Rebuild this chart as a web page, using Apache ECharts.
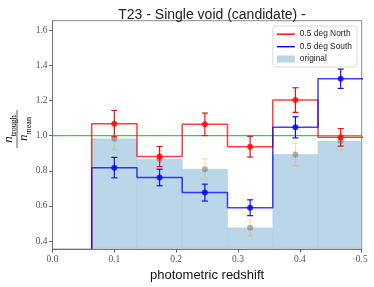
<!DOCTYPE html>
<html>
<head>
<meta charset="utf-8">
<script src="https://cdn.jsdelivr.net/npm/echarts@6/dist/echarts.min.js"></script>
<style>html,body{margin:0;padding:0;background:#fff}#c{width:374px;height:287px}</style>
</head>
<body>
<div id="c"></div>
<script>
// ---- data ----
const binEdges = [0.0634, 0.1366, 0.2098, 0.2830, 0.3562, 0.4294, 0.5026];
const binCenters = [0.1000, 0.1732, 0.2464, 0.3196, 0.3928, 0.4660];
const northValues = [1.068, 0.881, 1.064, 0.937, 1.202, 0.990];
const northErrors = [0.075, 0.057, 0.064, 0.059, 0.070, 0.050];
const southValues = [0.818, 0.762, 0.676, 0.590, 1.047, 1.323];
const southErrors = [0.058, 0.047, 0.048, 0.045, 0.060, 0.055];
const originalValues = [0.982, 0.866, 0.809, 0.476, 0.892, 0.969];
const originalErrors = [0.063, 0.050, 0.059, 0.045, 0.064, 0.050];
const referenceLevel = 1.0;
const yTicks = [0.4, 0.6, 0.8, 1.0, 1.2, 1.4, 1.6];
const xTicks = [0.0, 0.1, 0.2, 0.3, 0.4, 0.5];

const serif = "'Liberation Serif', 'DejaVu Serif', serif";
const sans = "'Liberation Sans', 'DejaVu Sans', sans-serif";

function stepData(vals) {
  const d = [[binEdges[0], 0]];
  for (let i = 0; i < vals.length; i++) {
    d.push([binEdges[i], vals[i]]);
    d.push([binEdges[i + 1], vals[i]]);
  }
  return d;
}
function errData(vals, errs) {
  return binCenters.map((x, i) => [x, vals[i], errs[i]]);
}
function pointData(vals) {
  return binCenters.map((x, i) => [x, vals[i]]);
}
function errSeries(vals, errs, color, z) {
  return {
    type: 'custom', z: z, silent: true,
    data: errData(vals, errs),
    renderItem: function (params, api) {
      const x = api.value(0), y = api.value(1), e = api.value(2);
      const t = api.coord([x, y + e]);
      const b = api.coord([x, y - e]);
      const cw = 3;
      const st = { stroke: color, lineWidth: 1.2 };
      return {
        type: 'group',
        children: [
          { type: 'line', shape: { x1: t[0], y1: t[1], x2: b[0], y2: b[1] }, style: st },
          { type: 'line', shape: { x1: t[0] - cw, y1: t[1], x2: t[0] + cw, y2: t[1] }, style: st },
          { type: 'line', shape: { x1: b[0] - cw, y1: b[1], x2: b[0] + cw, y2: b[1] }, style: st }
        ]
      };
    }
  };
}
const lineIcon = 'path://M0,0 M18,7 M0,3 L18,3 L18,4.4 L0,4.4 Z';

const chart = echarts.init(document.getElementById('c'), null, { renderer: 'canvas' });
const option = {
  animation: false,
  title: {
    text: 'T23 - Single void (candidate) -',
    left: 207, top: 3, textAlign: 'center',
    textStyle: { fontFamily: sans, fontSize: 14, fontWeight: 'normal', color: '#222' }
  },
  grid: { left: 52.5, right: 12.3, top: 20.7, bottom: 36.7, show: true, borderColor: '#888', borderWidth: 1, containLabel: false },
  legend: {
    orient: 'vertical', right: 17, top: 26,
    padding: [4, 5, 4, 4], itemGap: 4.5, itemWidth: 18, itemHeight: 7,
    backgroundColor: '#fff', borderColor: '#d8d8d8', borderWidth: 1, borderRadius: 3,
    textStyle: { fontFamily: sans, fontSize: 8.4, color: '#222' },
    data: [{ name: '0.5 deg North', icon: lineIcon }, { name: '0.5 deg South', icon: lineIcon }, { name: 'original', icon: 'rect' }]
  },
  xAxis: {
    type: 'value', min: 0, max: 0.5, interval: 0.1, z: 20,
    name: 'photometric redshift', nameLocation: 'middle', nameGap: 19,
    nameTextStyle: { fontFamily: sans, fontSize: 13, color: '#111' },
    axisLine: { show: true, onZero: false, lineStyle: { color: '#777', width: 1 } },
    axisTick: { show: true, length: 3.5, lineStyle: { color: '#666' }, customValues: xTicks },
    axisLabel: { fontFamily: serif, fontSize: 9.5, color: '#555', margin: 5, customValues: xTicks, formatter: v => v.toFixed(1) },
    splitLine: { show: false }
  },
  yAxis: {
    type: 'value', min: 0.355, max: 1.653, z: 20,
    axisLine: { show: true, onZero: false, lineStyle: { color: '#777', width: 1 } },
    axisTick: { show: true, length: 3.5, lineStyle: { color: '#666' }, customValues: yTicks },
    axisLabel: { fontFamily: serif, fontSize: 9.5, color: '#555', margin: 5, customValues: yTicks, formatter: v => v.toFixed(1) },
    splitLine: { show: false }
  },
  graphic: [{
    type: 'group', x: 17, y: 129, rotation: Math.PI / 2,
    children: [
      { type: 'text', x: 0, y: -8, style: {
          text: '{n|n}{s|trough}', align: 'center', verticalAlign: 'middle',
          rich: { n: { fontFamily: serif, fontStyle: 'italic', fontSize: 13, color: '#333', verticalAlign: 'bottom', lineHeight: 12 },
                  s: { fontFamily: serif, fontSize: 8, color: '#333', verticalAlign: 'bottom', lineHeight: 8, padding: [0, 0, -3, 0] } } } },
      { type: 'line', shape: { x1: -19, y1: 0, x2: 19, y2: 0 }, style: { stroke: '#333', lineWidth: 0.8 } },
      { type: 'text', x: 0, y: 7, style: {
          text: '{n|n}{s|mean}', align: 'center', verticalAlign: 'middle',
          rich: { n: { fontFamily: serif, fontStyle: 'italic', fontSize: 13, color: '#333', verticalAlign: 'bottom', lineHeight: 12 },
                  s: { fontFamily: serif, fontSize: 8, color: '#333', verticalAlign: 'bottom', lineHeight: 8, padding: [0, 0, -3, 0] } } } }
    ]
  }],
  series: [
    {
      name: 'original', type: 'custom', z: 1, silent: true,
      itemStyle: { color: '#bbd6e8' },
      data: originalValues.map((v, i) => [binEdges[i], binEdges[i + 1], v]),
      renderItem: function (params, api) {
        const p0 = api.coord([api.value(0), api.value(2)]);
        const p1 = api.coord([api.value(1), 0]);
        const cs = params.coordSys;
        const shape = echarts.graphic.clipRectByRect(
          { x: p0[0], y: p0[1], width: p1[0] - p0[0], height: p1[1] - p0[1] },
          { x: cs.x, y: cs.y, width: cs.width - 1, height: cs.height - 1 });
        return shape && { type: 'rect', shape: shape, style: { fill: '#bbd6e8', stroke: 'rgba(160,195,220,0.6)', lineWidth: 0.6 } };
      }
    },
    errSeries(originalValues, originalErrors, 'rgba(255,165,0,0.35)', 2),
    { type: 'scatter', z: 3, silent: true, symbolSize: 6, data: pointData(originalValues), itemStyle: { color: 'rgba(128,128,128,0.75)' } },
    { type: 'line', z: 4, silent: true, symbol: 'none', data: [[0, referenceLevel], [0.5, referenceLevel]], lineStyle: { color: '#22dd22', width: 1.3 } },
    { name: '0.5 deg North', type: 'line', z: 5, silent: true, symbol: 'none', data: stepData(northValues), lineStyle: { color: 'rgba(255,0,0,0.75)', width: 1.5 }, itemStyle: { color: 'rgba(255,0,0,1)' } },
    { name: '0.5 deg South', type: 'line', z: 6, silent: true, symbol: 'none', data: stepData(southValues), lineStyle: { color: 'rgba(0,0,255,0.75)', width: 1.5 }, itemStyle: { color: 'rgba(0,0,255,1)' } },
    errSeries(northValues, northErrors, '#f01010', 7),
    { type: 'scatter', z: 8, silent: true, symbolSize: 6, data: pointData(northValues), itemStyle: { color: '#ff0000' } },
    errSeries(southValues, southErrors, '#1010f0', 9),
    { type: 'scatter', z: 10, silent: true, symbolSize: 6, data: pointData(southValues), itemStyle: { color: '#0000ff' } }
  ]
};
chart.setOption(option);
</script>
</body>
</html>
